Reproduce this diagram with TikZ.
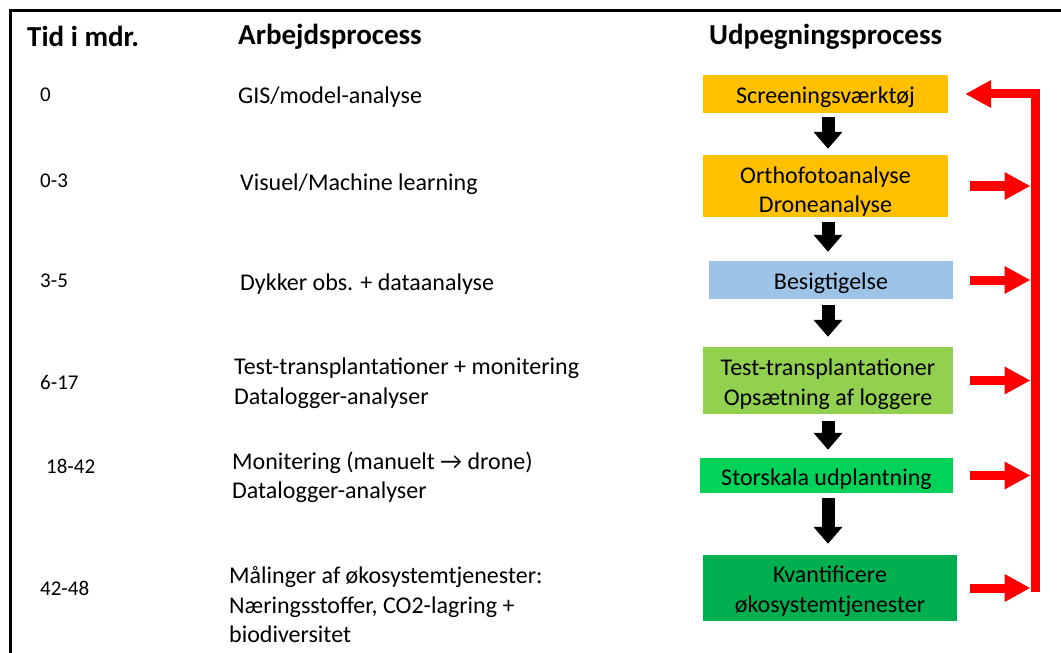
\documentclass[tikz,border=0pt]{standalone}
\usepackage{fontspec}
\setmainfont{Carlito}
\usetikzlibrary{arrows.meta,calc}
\definecolor{gold}{HTML}{FFC000}
\definecolor{lblue}{HTML}{9DC3E6}
\definecolor{lgreen}{HTML}{92D050}
\definecolor{bgreen}{HTML}{00D25A}
\definecolor{dgreen}{HTML}{00B050}
\definecolor{rred}{HTML}{FF0000}
\tikzset{
  box/.style={inner sep=0pt},
  boxtxt/.style={inner sep=0pt, align=center, yshift=-3.5bp, font=\fontsize{24bp}{29.5bp}\selectfont},
  hdr/.style={anchor=west, inner sep=0pt, font=\fontsize{29bp}{34bp}\selectfont\bfseries},
  txt/.style={anchor=west, inner sep=0pt, align=left, font=\fontsize{24bp}{29.5bp}\selectfont},
  num/.style={anchor=west, inner sep=0pt, font=\fontsize{21bp}{26bp}\selectfont},
  blk/.style={line width=13bp, black, -{Triangle[width=28bp,length=17bp]}},
  redarr/.style={line width=9bp, rred, -{Triangle[width=26bp,length=26bp]}}
}
\begin{document}
\begin{tikzpicture}[x=1bp,y=-1bp]
\useasboundingbox (0,0) rectangle (1061,653);
% frame
\draw[line width=3bp] (10,653) -- (10,10.5) -- (1061,10.5);
% headers
\node[hdr] (h1) at (27,36.5) {Tid i mdr.};
\node[hdr] (h2) at (238,36.5) {Arbejdsprocess};
\node[hdr] (h3) at (709,36.5) {Udpegningsprocess};
% time column
\node[num] (t1) at (40,95) {0};
\node[num] (t2) at (40,181) {0-3};
\node[num] (t3) at (40,281) {3-5};
\node[num] (t4) at (40,382) {6-17};
\node[num] (t5) at (46,466) {18-42};
\node[num] (t6) at (40,588) {42-48};
% work process column
\node[txt] (w1) at (238,97) {GIS/model-analyse};
\node[txt] (w2) at (240,184) {Visuel/Machine learning};
\node[txt] (w3) at (240,284) {Dykker obs. + dataanalyse};
\node[txt] (w4) at (234,383) {Test-transplantationer + monitering\\Datalogger-analyser};
\node[txt] (w5) at (232,477.5) {Monitering (manuelt \textrightarrow{} drone)\\Datalogger-analyser};
\node[txt] (w6) at (229,605) {Målinger af økosystemtjenester:\\Næringsstoffer, CO2-lagring +\\biodiversitet};
% process boxes
\node[box, fill=gold, minimum width=245bp, minimum height=38bp,
  label={[boxtxt]center:Screeningsværktøj}] (b1) at (825.5,94) {};
\node[box, fill=gold, minimum width=245bp, minimum height=62bp,
  label={[boxtxt, yshift=-2bp]center:Orthofotoanalyse\\Droneanalyse}] (b2) at (825.5,186) {};
\node[box, fill=lblue, minimum width=244bp, minimum height=38bp,
  label={[boxtxt]center:Besigtigelse}] (b3) at (831,280) {};
\node[box, fill=lgreen, minimum width=250bp, minimum height=67bp,
  label={[boxtxt]center:Test-transplantationer\\Opsætning af loggere}] (b4) at (828,380.5) {};
\node[box, fill=bgreen, minimum width=253bp, minimum height=35bp,
  label={[boxtxt]center:Storskala udplantning}] (b5) at (826.5,475.5) {};
\node[box, fill=dgreen, minimum width=254bp, minimum height=66bp,
  label={[boxtxt]center:Kvantificere\\økosystemtjenester}] (b6) at (830,588) {};
% black arrows
\coordinate (cx) at (828,0);
\draw[blk, shorten <=4bp, shorten >=6bp] (b1.south -| cx) -- (b2.north -| cx);
\draw[blk, shorten <=5bp, shorten >=9bp] (b2.south -| cx) -- (b3.north -| cx);
\draw[blk, shorten <=6bp, shorten >=10bp] (b3.south -| cx) -- (b4.north -| cx);
\draw[blk, shorten <=7bp, shorten >=8bp] (b4.south -| cx) -- (b5.north -| cx);
\draw[blk, shorten <=5bp, shorten >=11bp] (b5.south -| cx) -- (b6.north -| cx);
% red feedback
\coordinate (sx) at (970,0);
\coordinate (bx) at (1035,0);
\coordinate (barbot) at (1035,592);
\draw[redarr, shorten >=17bp] (barbot) |- (b1.east);
\foreach \b in {b2,b3,b4,b5,b6}{
  \draw[redarr, shorten >=4.5bp] (\b.east -| sx) -- (\b.east -| bx);
}
\end{tikzpicture}
\end{document}
